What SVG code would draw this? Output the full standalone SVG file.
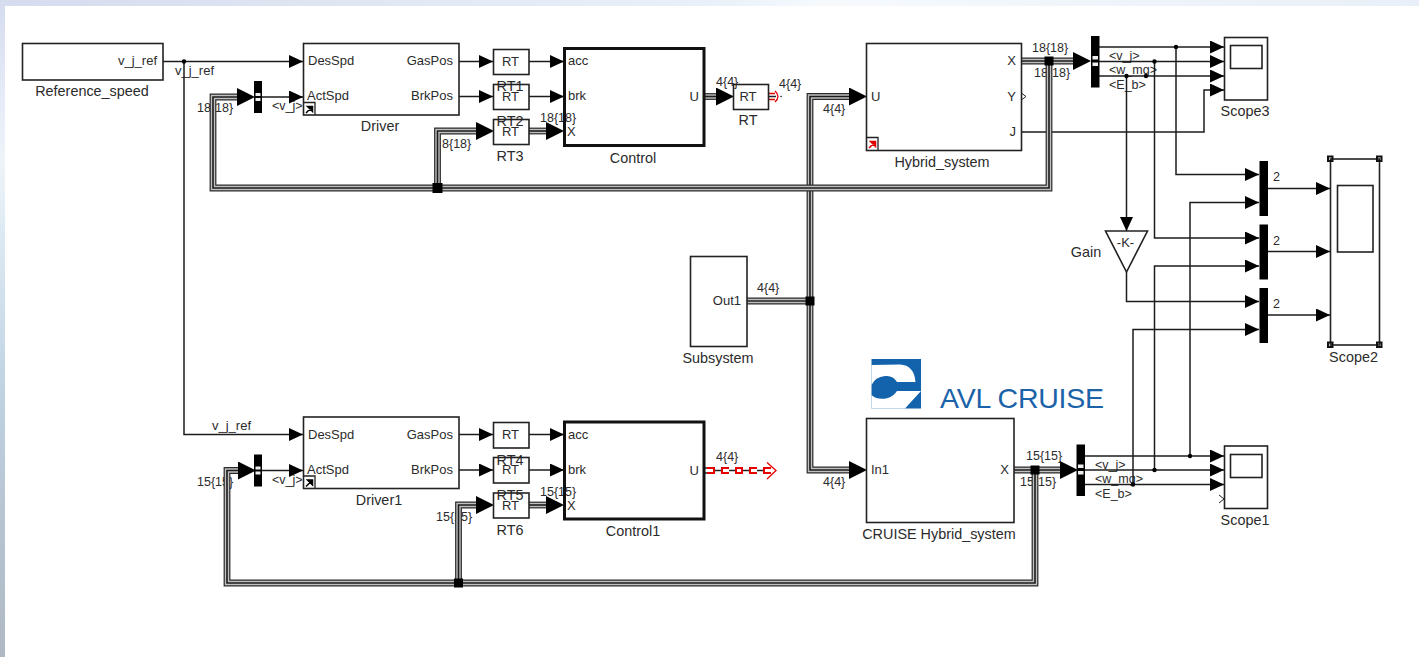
<svg xmlns="http://www.w3.org/2000/svg" width="1419" height="657" viewBox="0 0 1419 657">
<style>
text{font-family:"Liberation Sans",Arial,sans-serif;fill:#2b2b2b}
.p{font-size:13px}
.n{font-size:14.400px;text-anchor:middle}
.s{font-size:12.500px}
.e{text-anchor:end}
.blk{fill:none;stroke:#222;stroke-width:1.600}
.thick{fill:none;stroke:#111;stroke-width:3}
.sig{fill:none;stroke:#1c1c1c;stroke-width:1.500;marker-end:url(#a)}
.wire{fill:none;stroke:#222;stroke-width:1.500}
.b1,.b2,.b3{fill:none;stroke-linejoin:miter}
.b1{stroke:#2a2a2a;stroke-width:6.800}
.b2{stroke:#c0c0c0;stroke-width:4.400}
.b3{stroke:#1c1c1c;stroke-width:1.600;marker-end:url(#A)}
.bar{fill:#000}
.gap{fill:#eee}
</style>
<defs>
<linearGradient id="left" x1="0" y1="0" x2="0" y2="1">
<stop offset="0" stop-color="#d5dcee"/><stop offset="0.15" stop-color="#e6ebf8"/><stop offset="0.25" stop-color="#eef4f8"/><stop offset="0.36" stop-color="#dce9f3"/><stop offset="0.6" stop-color="#bfd2e2"/><stop offset="0.78" stop-color="#b8c4d2"/><stop offset="1" stop-color="#aeb9c4"/>
</linearGradient>
<linearGradient id="top" x1="0" y1="0" x2="1" y2="0">
<stop offset="0" stop-color="#d5dcee"/><stop offset="0.5" stop-color="#e8f1f9"/><stop offset="0.58" stop-color="#f6fafd"/><stop offset="1" stop-color="#e9eff8"/>
</linearGradient>
<marker id="a" markerUnits="userSpaceOnUse" markerWidth="16" markerHeight="14" refX="14" refY="6.500" orient="auto"><path d="M0 0L14 6.500L0 13Z" fill="#000"/></marker>
<marker id="A" markerUnits="userSpaceOnUse" markerWidth="20" markerHeight="20" refX="0" refY="9" orient="auto"><path d="M0 0L18 9L0 18Z" fill="#000"/></marker>
<path id="busV" d="M810 301V96.500H849"/>
<path id="busV2" d="M810 301V470H849"/>
<path id="bus1" d="M1049 61V188H213V97H237"/>
<path id="bus2" d="M437.500 188V131H476"/>
<path id="bus3" d="M1021 61H1073"/>
<path id="bus4" d="M529 131H546"/>
<path id="bus5" d="M704 96.500H716"/>
<path id="bus6" d="M747 301H810"/>
<path id="bus7" d="M1035 470V583H227V470.500H238"/>
<path id="bus8" d="M458.500 583V505H476"/>
<path id="bus9" d="M529 505H546"/>
<path id="bus10" d="M1014 470H1060"/>
</defs>

<rect width="1419" height="657" fill="#fff"/>
<rect width="1419" height="6" fill="url(#top)"/>
<rect width="5" height="657" fill="url(#left)"/>

<g id="connectors">
<g id="connector-labels">
<text class="p" x="175" y="75">v_j_ref</text>
<text class="p" x="212" y="430">v_j_ref</text>
<text class="s" x="197" y="112">18{18}</text>
<text class="s" x="197" y="486">15{15}</text>
<text class="s" x="272" y="110">&lt;v_j&gt;</text>
<text class="s" x="272" y="484">&lt;v_j&gt;</text>
<text class="s" x="442" y="148">8{18}</text>
<text class="s" x="436" y="521">15{15}</text>
<text class="s" x="540" y="122">18{18}</text>
<text class="s" x="540" y="496">15{15}</text>
<text class="s" x="716" y="86">4{4}</text>
<text class="s" x="779" y="88">4{4}</text>
<text class="s" x="716" y="461">4{4}</text>
<text class="s" x="823" y="113">4{4}</text>
<text class="s" x="823" y="486">4{4}</text>
<text class="s" x="757" y="292">4{4}</text>
<text class="s" x="1032" y="52">18{18}</text>
<text class="s" x="1034" y="77">18{18}</text>
<text class="s" x="1026" y="460">15{15}</text>
<text class="s" x="1020" y="486">15{15}</text>
<text class="s" x="1109" y="60">&lt;v_j&gt;</text>
<text class="s" x="1109" y="74">&lt;w_mg&gt;</text>
<text class="s" x="1109" y="89">&lt;E_b&gt;</text>
<text class="s" x="1095" y="469">&lt;v_j&gt;</text>
<text class="s" x="1095" y="483">&lt;w_mg&gt;</text>
<text class="s" x="1095" y="498">&lt;E_b&gt;</text>
<text class="s" x="1273" y="181">2</text>
<text class="s" x="1273" y="245">2</text>
<text class="s" x="1273" y="308">2</text>
</g>

<path class="sig" d="M163 61.500H303"/>
<path class="sig" d="M184 61.500V434.500H303"/>
<path class="sig" d="M262 97H303"/>
<path class="sig" d="M262 470.500H303"/>
<path class="sig" d="M459 61.500H493"/>
<path class="sig" d="M459 96.500H493"/>
<path class="sig" d="M529 61.500H564"/>
<path class="sig" d="M529 96.500H564"/>
<path class="sig" d="M459 434.500H493"/>
<path class="sig" d="M459 470H493"/>
<path class="sig" d="M529 434.500H564"/>
<path class="sig" d="M529 470H564"/>

<path class="sig" d="M1099 47H1224"/>
<path class="sig" d="M1099 61.500H1224"/>
<path class="sig" d="M1099 76H1224"/>
<path class="sig" d="M1021 132H1204V90H1224"/>
<path class="sig" d="M1085 456H1224"/>
<path class="sig" d="M1085 470H1224"/>
<path class="sig" d="M1085 484.500H1224"/>
<path class="sig" d="M1176 47V174.500H1259"/>
<path class="sig" d="M1154.500 61.500V238H1259"/>
<path class="sig" d="M1126.500 76V231"/>
<path class="sig" d="M1126.500 272V301.500H1259"/>
<path class="sig" d="M1190 456V202.500H1259"/>
<path class="sig" d="M1154.500 470V266H1259"/>
<path class="sig" d="M1133 484.500V329.500H1259"/>
<path class="sig" d="M1268 188.500H1330"/>
<path class="sig" d="M1268 251.500H1330"/>
<path class="sig" d="M1268 315H1330"/>

<use href="#busV" class="b1"/><use href="#busV" class="b2"/><use href="#busV" class="b3"/>
<use href="#busV2" class="b1"/><use href="#busV2" class="b2"/><use href="#busV2" class="b3"/>
<use href="#bus1" class="b1"/><use href="#bus1" class="b2"/><use href="#bus1" class="b3"/>
<use href="#bus2" class="b1"/><use href="#bus2" class="b2"/><use href="#bus2" class="b3"/>
<use href="#bus3" class="b1"/><use href="#bus3" class="b2"/><use href="#bus3" class="b3"/>
<use href="#bus4" class="b1"/><use href="#bus4" class="b2"/><use href="#bus4" class="b3"/>
<use href="#bus5" class="b1"/><use href="#bus5" class="b2"/><use href="#bus5" class="b3"/>
<use href="#bus6" class="b1"/><use href="#bus6" class="b2"/><path class="wire" d="M747 301H810"/>
<use href="#bus7" class="b1"/><use href="#bus7" class="b2"/><use href="#bus7" class="b3"/>
<use href="#bus8" class="b1"/><use href="#bus8" class="b2"/><use href="#bus8" class="b3"/>
<use href="#bus9" class="b1"/><use href="#bus9" class="b2"/><use href="#bus9" class="b3"/>
<use href="#bus10" class="b1"/><use href="#bus10" class="b2"/><use href="#bus10" class="b3"/>

<g id="junctions" fill="#000">
<circle cx="184" cy="61.500" r="2.200"/>
<circle cx="1176" cy="47" r="2.200"/>
<circle cx="1154.500" cy="61.500" r="2.200"/>
<circle cx="1146" cy="76" r="2.200"/>
<circle cx="1126.500" cy="76" r="2.200"/>
<circle cx="1190" cy="456" r="2.200"/>
<circle cx="1154.500" cy="470" r="2.200"/>
<circle cx="1133" cy="484.500" r="2.200"/>
<rect x="432.500" y="183" width="10" height="10"/>
<rect x="805.500" y="296.500" width="9" height="9"/>
<rect x="1044.500" y="56.500" width="9" height="9"/>
<rect x="1030.500" y="465.500" width="9" height="9"/>
<rect x="454" y="578.500" width="9" height="9"/>
</g>

<g id="red-stubs" fill="none">
<path d="M768 93.500H775M768 99.500H775" stroke="#e00000" stroke-width="1.500"/>
<path d="M768 96.500H776" stroke="#222" stroke-width="1.500"/>
<path d="M775 91Q781 96.500 775 102" stroke="#e00000" stroke-width="1.300"/>
<circle cx="781" cy="96.500" r="0.800" fill="#222"/>
<path d="M704 468H707M704 473H707" stroke="#222" stroke-width="1.300"/>
<path d="M707 468H771M707 473H771" stroke="#e80000" stroke-width="2.200" stroke-dasharray="8 6"/>
<path d="M715 470.500H763" stroke="#222" stroke-width="1.500" stroke-dasharray="6 8"/>
<path d="M714 467V474M722 467V474M742 467V474M750 467V474M764 467V474M736 467V474" stroke="#e80000" stroke-width="2"/>
<path d="M767 462.500L776 470.500L767 479" stroke="#e80000" stroke-width="1.300"/>
</g>
</g>

<g id="Reference_speed">
<rect class="blk" x="22.500" y="43.500" width="140.500" height="36.500"/>
<text class="p e" x="157" y="65">v_j_ref</text>
<text class="n" x="92" y="96">Reference_speed</text>
</g>

<g id="Driver">
<rect class="blk" x="303.500" y="43.500" width="155.500" height="71.500"/>
<path d="M303.500 102.500H315V115" fill="none" stroke="#222" stroke-width="1.300"/>
<path d="M306 113L311 108M307.500 106.500H312.500V111.500Z" stroke="#000" stroke-width="1.500"/>
<text class="p" x="308" y="65">DesSpd</text>
<text class="p" x="307" y="100">ActSpd</text>
<text class="p e" x="453" y="65">GasPos</text>
<text class="p e" x="453" y="100">BrkPos</text>
<text class="n" x="380" y="131">Driver</text>
</g>

<g id="Mux-driver">
<rect class="bar" x="254" y="81" width="8" height="32"/>
<rect class="gap" x="255.500" y="93" width="5" height="3"/>
<rect class="gap" x="255.500" y="98" width="5" height="3"/>
</g>

<g id="RT1"><rect class="blk" x="493.500" y="49.500" width="35.500" height="25"/><text class="p" x="510.500" y="66" text-anchor="middle">RT</text><text class="n" x="510" y="90.500">RT1</text></g>
<g id="RT2"><rect class="blk" x="493.500" y="84.500" width="35.500" height="25"/><text class="p" x="510.500" y="101" text-anchor="middle">RT</text><text class="n" x="510" y="126">RT2</text></g>
<g id="RT3"><rect class="blk" x="493.500" y="119.500" width="35.500" height="25"/><text class="p" x="510.500" y="136" text-anchor="middle">RT</text><text class="n" x="510" y="161">RT3</text></g>

<g id="Control">
<rect class="thick" x="564.500" y="48.500" width="139.500" height="97"/>
<text class="p" x="568" y="65">acc</text>
<text class="p" x="568" y="100">brk</text>
<text class="p" x="567" y="136">X</text>
<text class="p e" x="699" y="101">U</text>
<text class="n" x="633" y="163">Control</text>
</g>

<g id="RT"><rect class="blk" x="733.500" y="84.500" width="35" height="25"/><text class="p" x="748" y="101" text-anchor="middle">RT</text><text class="n" x="748" y="125">RT</text></g>

<g id="Hybrid_system">
<rect class="blk" x="866.500" y="43.500" width="155" height="107"/>
<path d="M866.500 137.500H878V150" fill="none" stroke="#222" stroke-width="1.300"/>
<path d="M869 148L874 143M870.500 141.500H875.500V146.500Z" stroke="#e00000" stroke-width="1.500" fill="#e00000"/>
<text class="p" x="871" y="101">U</text>
<text class="p e" x="1016" y="65">X</text>
<text class="p e" x="1016" y="101">Y</text>
<text class="p e" x="1016" y="136">J</text>
<path d="M1022 93.500L1026 96.500L1022 99.500" fill="none" stroke="#222"/>
<text class="n" x="942" y="167">Hybrid_system</text>
</g>

<g id="Subsystem">
<rect class="blk" x="690.500" y="256.500" width="56.500" height="90"/>
<text class="p e" x="741" y="305">Out1</text>
<text class="n" x="718" y="363">Subsystem</text>
</g>

<g id="Logo">
<rect x="871.500" y="359" width="49.500" height="49.500" fill="#1262ac"/>
<path d="M871.500 365L900 364.500Q914 365 915.500 382L897 382Q893 375 885 376Q875 377 871.500 385Z" fill="#fff"/>
<path d="M871.500 395Q877 400 886 398.500Q893 397 897 391L921 391L905 408.500L871.500 408.500Z" fill="#fff"/>
<text x="940" y="408" font-size="28.500" style="fill:#1a63a8" textLength="164">AVL CRUISE</text>
</g>

<g id="Driver1">
<rect class="blk" x="303.500" y="417" width="155.500" height="71.500"/>
<path d="M303.500 476H315V488.500" fill="none" stroke="#222" stroke-width="1.300"/>
<path d="M306 486.500L311 481.500M307.500 480H312.500V485Z" stroke="#000" stroke-width="1.500"/>
<text class="p" x="308" y="439">DesSpd</text>
<text class="p" x="307" y="474">ActSpd</text>
<text class="p e" x="453" y="439">GasPos</text>
<text class="p e" x="453" y="474">BrkPos</text>
<text class="n" x="379" y="505">Driver1</text>
</g>

<g id="Mux-driver1">
<rect class="bar" x="254" y="454.500" width="8" height="32"/>
<rect class="gap" x="255.500" y="466.500" width="5" height="3"/>
<rect class="gap" x="255.500" y="471.500" width="5" height="3"/>
</g>

<g id="RT4"><rect class="blk" x="493.500" y="422.500" width="35.500" height="25.500"/><text class="p" x="510.500" y="439" text-anchor="middle">RT</text><text class="n" x="510" y="464.500">RT4</text></g>
<g id="RT5"><rect class="blk" x="493.500" y="457.500" width="35.500" height="25.500"/><text class="p" x="510.500" y="474" text-anchor="middle">RT</text><text class="n" x="510" y="500">RT5</text></g>
<g id="RT6"><rect class="blk" x="493.500" y="493" width="35.500" height="25"/><text class="p" x="510.500" y="510" text-anchor="middle">RT</text><text class="n" x="510" y="534.500">RT6</text></g>

<g id="Control1">
<rect class="thick" x="564.500" y="422" width="139.500" height="97"/>
<text class="p" x="568" y="439">acc</text>
<text class="p" x="568" y="474">brk</text>
<text class="p" x="567" y="510">X</text>
<text class="p e" x="699" y="474.500">U</text>
<text class="n" x="633" y="536">Control1</text>
</g>

<g id="CRUISE_Hybrid_system">
<rect class="blk" x="866.500" y="418.500" width="147.500" height="104"/>
<text class="p" x="871" y="474">In1</text>
<text class="p e" x="1009" y="474">X</text>
<text class="n" x="939" y="539">CRUISE Hybrid_system</text>
</g>

<g id="Mux-scope3">
<rect class="bar" x="1091" y="36" width="8.500" height="51.500"/>
<rect class="gap" x="1092.500" y="56" width="5.500" height="3.500"/>
<rect class="gap" x="1092.500" y="62.500" width="5.500" height="3.500"/>
</g>

<g id="Mux-scope1">
<rect class="bar" x="1076.500" y="444.500" width="8.500" height="51.500"/>
<rect class="gap" x="1078" y="464.500" width="5.500" height="3.500"/>
<rect class="gap" x="1078" y="471" width="5.500" height="3.500"/>
</g>

<g id="Scope3">
<rect class="blk" x="1224.500" y="37.500" width="43" height="62.500"/>
<rect class="blk" x="1230.500" y="45.500" width="31.500" height="23"/>
<text class="n" x="1245" y="116">Scope3</text>
</g>

<g id="Scope1">
<rect class="blk" x="1224.500" y="446" width="43" height="62.500"/>
<rect class="blk" x="1230.500" y="454.500" width="31.500" height="23"/>
<path d="M1219 495L1224 499L1219 503" fill="none" stroke="#222"/>
<text class="n" x="1245" y="525">Scope1</text>
</g>

<g id="Gain">
<path class="blk" d="M1105.500 231H1147.500L1126.500 272Z"/>
<text class="p" x="1125.500" y="247" text-anchor="middle">-K-</text>
<text class="n" x="1086" y="257">Gain</text>
</g>

<g id="Mux-a"><rect class="bar" x="1259.500" y="161" width="8.500" height="55"/></g>
<g id="Mux-b"><rect class="bar" x="1259.500" y="224.500" width="8.500" height="55"/></g>
<g id="Mux-c"><rect class="bar" x="1259.500" y="288" width="8.500" height="55"/></g>

<g id="Scope2">
<rect class="blk" x="1330.500" y="159" width="49" height="186"/>
<rect class="blk" x="1337.500" y="185.500" width="35.500" height="66.500"/>
<g fill="#111">
<path fill-rule="evenodd" d="M1327 155.500h6.500v6.500h-6.500zM1329 157.500h2.500v2.500h-2.500z"/>
<path fill-rule="evenodd" d="M1376 155.500h6.500v6.500h-6.500zM1378 157.500h2.500v2.500h-2.500z"/>
<path fill-rule="evenodd" d="M1327 341.500h6.500v6.500h-6.500zM1329 343.500h2.500v2.500h-2.500z"/>
<path fill-rule="evenodd" d="M1376 341.500h6.500v6.500h-6.500zM1378 343.500h2.500v2.500h-2.500z"/>
</g>
<text class="n" x="1353.500" y="362">Scope2</text>
</g>
</svg>
